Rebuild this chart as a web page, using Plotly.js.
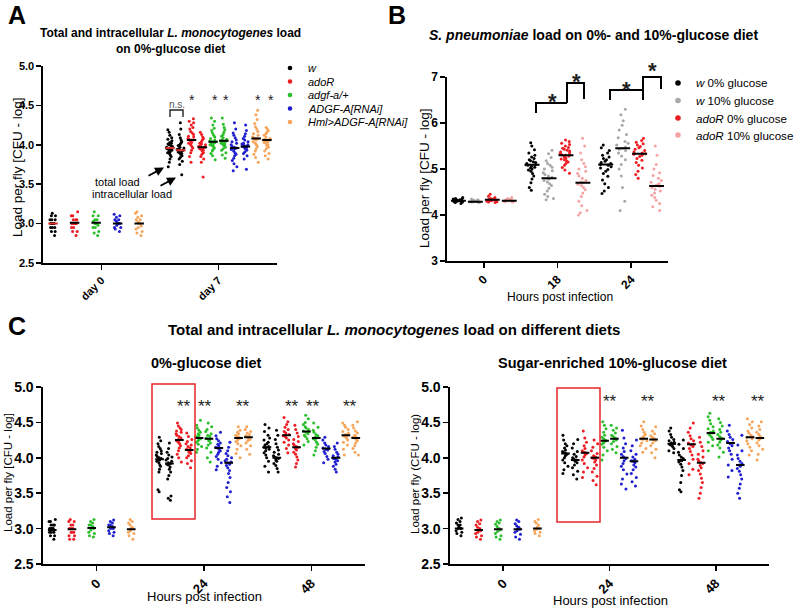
<!DOCTYPE html>
<html><head><meta charset="utf-8">
<script src="https://cdn.plot.ly/plotly-3.0.1.min.js"></script>
<style>html,body{margin:0;padding:0;background:#fff}#chart{width:800px;height:610px}</style>
</head><body><div id="chart"></div>
<script>
// ---------------- categories / labels ----------------
const genotypes = ['w', 'adoR', 'adgf-a/+', 'ADGF-A[RNAi]', 'Hml&gt;ADGF-A[RNAi]'];
const genoColors = ['#000000', '#ee1d23', '#2cbf2c', '#1f1fd0', '#f6a65c'];
const catsA = ['day 0', 'day 7'];
const catsB = ['0', '18', '24'];
const catsC = ['0', '24', '48'];
const groupsB = ['<i>w</i> 0% glucose', '<i>w</i> 10% glucose', '<i>adoR</i> 0% glucose', '<i>adoR</i> 10% glucose'];
const colorsB = ['#000000', '#a8a8a8', '#ee1d23', '#f5a3a3'];

// ---------------- Panel A: L. monocytogenes, 0%-glucose ----------------
const A_w_d0    = [2.85,2.9,2.9,2.95,2.95,2.95,3,3,3,3,3,3.05,3.05,3.05,3.1,3.1,3.13];
const A_adoR_d0 = [2.85,2.9,2.9,2.95,2.95,3,3,3,3,3,3.05,3.05,3.05,3.1,3.1,3.15];
const A_adgf_d0 = [2.85,2.88,2.9,2.95,2.95,2.98,3,3,3,3.03,3.05,3.05,3.1,3.1,3.15];
const A_rnai_d0 = [2.9,2.93,2.95,2.95,2.98,3,3,3,3.03,3.05,3.05,3.08,3.1,3.12];
const A_hml_d0  = [2.85,2.88,2.9,2.93,2.95,2.97,3,3,3.02,3.05,3.05,3.08,3.1,3.13,3.15];

const A_w_d7T    = [3.72,3.78,3.82,3.85,3.87,3.89,3.9,3.91,3.92,3.93,3.94,3.95,3.96,3.96,3.97,3.98,3.99,4.0,4.01,4.02,4.03,4.05,4.07,4.09,4.12,4.16,4.19];
const A_w_d7I    = [3.62,3.75,3.79,3.82,3.84,3.86,3.88,3.89,3.9,3.91,3.92,3.93,3.93,3.94,3.95,3.96,3.97,3.99,4.0,4.02,4.04,4.06,4.09,4.13,4.2,4.28];
const A_adoR_d7T = [3.78,3.85,3.9,3.93,3.96,3.98,4.0,4.02,4.03,4.05,4.06,4.06,4.07,4.08,4.1,4.11,4.13,4.15,4.17,4.2,4.22,4.25,4.28,4.3,4.33];
const A_adoR_d7I = [3.59,3.78,3.82,3.85,3.88,3.9,3.92,3.93,3.94,3.95,3.96,3.97,3.97,3.98,3.99,4.0,4.01,4.02,4.04,4.06,4.08,4.1,4.13,4.16];
const A_adgf_d7T = [3.81,3.86,3.89,3.92,3.94,3.96,3.98,3.99,4.0,4.01,4.02,4.03,4.04,4.04,4.05,4.06,4.08,4.1,4.12,4.15,4.18,4.21,4.25,4.3,4.34];
const A_adgf_d7I = [3.83,3.87,3.9,3.93,3.95,3.97,3.99,4.0,4.01,4.02,4.03,4.04,4.05,4.05,4.06,4.07,4.09,4.11,4.13,4.16,4.19,4.22,4.26,4.34];
const A_rnai_d7T = [3.67,3.72,3.76,3.8,3.83,3.86,3.88,3.9,3.92,3.94,3.95,3.96,3.96,3.97,3.98,4.0,4.02,4.04,4.06,4.09,4.12,4.15,4.2,4.28];
const A_rnai_d7I = [3.69,3.82,3.86,3.89,3.91,3.93,3.95,3.96,3.97,3.98,3.98,3.99,4.0,4.01,4.02,4.04,4.06,4.08,4.11,4.14,4.18,4.25];
const A_hml_d7T  = [3.78,3.84,3.88,3.92,3.95,3.98,4.0,4.02,4.04,4.06,4.07,4.08,4.08,4.09,4.1,4.12,4.14,4.17,4.2,4.23,4.27,4.32,4.38,4.44];
const A_hml_d7I  = [3.82,3.86,3.89,3.92,3.95,3.97,3.99,4.0,4.02,4.03,4.04,4.05,4.06,4.06,4.07,4.08,4.1,4.12,4.14,4.16,4.18,4.2,4.22];

const A_med_d0  = [3.0, 3.01, 3.01, 3.0, 3.0];
const A_med_d7T = [3.96, 4.06, 4.04, 3.96, 4.08];
const A_med_d7I = [3.93, 3.97, 4.05, 3.98, 4.06];

// ---------------- Panel B: S. pneumoniae ----------------
const B_w0_0  = [4.25,4.27,4.28,4.29,4.3,4.3,4.31,4.31,4.32,4.32,4.33,4.33,4.34,4.35,4.36,4.38];
const B_w10_0 = [4.27,4.28,4.28,4.29,4.29,4.29,4.3,4.3,4.3,4.31,4.31,4.32,4.33,4.35];
const B_a0_0  = [4.27,4.28,4.29,4.3,4.31,4.32,4.32,4.33,4.33,4.34,4.35,4.36,4.38,4.41,4.45];
const B_a10_0 = [4.28,4.29,4.3,4.3,4.31,4.31,4.31,4.32,4.32,4.33,4.34,4.36,4.38];
const B_w0_18  = [4.54,4.6,4.7,4.78,4.85,4.9,4.95,4.98,5.0,5.02,5.04,5.06,5.08,5.09,5.1,5.12,5.14,5.16,5.18,5.2,5.23,5.26,5.3,5.35,5.42,5.5,5.57];
const B_w10_18 = [4.33,4.36,4.4,4.45,4.52,4.58,4.64,4.68,4.72,4.75,4.78,4.8,4.82,4.85,4.88,4.92,4.96,5.0,5.04,5.08,5.12,5.18,5.25,5.33,5.41];
const B_a0_18  = [4.91,4.98,5.03,5.08,5.12,5.15,5.18,5.2,5.22,5.24,5.26,5.28,5.3,5.31,5.33,5.35,5.37,5.39,5.41,5.43,5.45,5.47,5.5,5.53,5.56,5.6,5.63];
const B_a10_18 = [4.0,4.05,4.1,4.2,4.3,4.4,4.48,4.55,4.6,4.64,4.67,4.7,4.72,4.75,4.8,4.85,4.9,4.95,5.0,5.05,5.12,5.2,5.35,5.5,5.67];
const B_w0_24  = [4.47,4.52,4.6,4.68,4.76,4.84,4.9,4.95,4.99,5.02,5.05,5.08,5.1,5.12,5.14,5.17,5.2,5.23,5.26,5.3,5.35,5.4,5.46,5.52];
const B_w10_24 = [4.1,4.3,4.6,4.85,5.0,5.1,5.2,5.28,5.35,5.4,5.43,5.45,5.48,5.52,5.56,5.6,5.68,5.75,5.85,5.95,6.05,6.18,6.3];
const B_a0_24  = [4.8,4.88,4.95,5.02,5.08,5.14,5.19,5.23,5.27,5.3,5.32,5.33,5.35,5.37,5.4,5.43,5.46,5.49,5.52,5.55,5.58,5.62,5.67];
const B_a10_24 = [4.1,4.18,4.25,4.32,4.38,4.43,4.48,4.52,4.56,4.6,4.62,4.63,4.65,4.68,4.71,4.75,4.8,4.86,4.92,5.0,5.1,5.3,5.5];
const B_med = [[4.31, 5.09, 5.1], [4.29, 4.8, 5.45], [4.33, 5.3, 5.33], [4.31, 4.7, 4.63]];

// ---------------- Panel C left: 0%-glucose diet ----------------
const CL_w_0    = [2.85,2.9,2.9,2.95,2.95,2.95,3,3,3,3,3.05,3.05,3.05,3.1,3.1,3.13];
const CL_adoR_0 = [2.85,2.85,2.9,2.9,2.95,2.95,2.95,3,3,3,3.05,3.05,3.1,3.1,3.13];
const CL_adgf_0 = [2.88,2.9,2.93,2.95,2.98,3,3,3.03,3.05,3.05,3.08,3.1,3.13];
const CL_rnai_0 = [2.9,2.93,2.95,2.97,3,3,3.02,3.03,3.05,3.05,3.08,3.1,3.12];
const CL_hml_0  = [2.85,2.9,2.93,2.95,2.97,3,3,3.02,3.05,3.08,3.1,3.13];
const CL_w_24T    = [3.52,3.55,3.8,3.84,3.88,3.9,3.93,3.95,3.97,3.98,3.99,4.0,4.02,4.04,4.06,4.08,4.1,4.13,4.16,4.2,4.24,4.29];
const CL_w_24I    = [3.4,3.43,3.46,3.7,3.75,3.8,3.84,3.87,3.9,3.91,3.92,3.93,3.95,3.97,3.99,4.01,4.04,4.08,4.13,4.21];
const CL_adoR_24T = [3.94,4.0,4.05,4.1,4.14,4.17,4.2,4.22,4.24,4.25,4.26,4.28,4.3,4.32,4.34,4.36,4.38,4.4,4.42,4.45,4.49];
const CL_adoR_24I = [3.86,3.92,3.96,4.0,4.03,4.06,4.08,4.1,4.11,4.12,4.14,4.16,4.18,4.2,4.23,4.26,4.3,4.35];
const CL_adgf_24T = [4.08,4.12,4.16,4.19,4.22,4.24,4.26,4.27,4.28,4.29,4.3,4.32,4.34,4.36,4.39,4.42,4.46,4.53];
const CL_adgf_24I = [3.94,4.0,4.08,4.14,4.18,4.21,4.24,4.26,4.27,4.28,4.3,4.32,4.34,4.37,4.4,4.44,4.49];
const CL_rnai_24T = [3.83,3.88,3.93,3.98,4.02,4.05,4.08,4.1,4.12,4.14,4.15,4.17,4.19,4.21,4.24,4.27,4.31,4.36];
const CL_rnai_24I = [3.37,3.45,3.52,3.58,3.65,3.72,3.78,3.82,3.86,3.89,3.91,3.93,3.94,3.96,3.98,4.0,4.03,4.06,4.1,4.15,4.22];
const CL_hml_24T  = [4.0,4.06,4.12,4.17,4.2,4.23,4.25,4.27,4.28,4.29,4.3,4.32,4.34,4.36,4.39,4.44];
const CL_hml_24I  = [4.05,4.12,4.17,4.21,4.24,4.26,4.28,4.29,4.3,4.31,4.33,4.35,4.37,4.4,4.44];
const CL_w_48T    = [3.8,3.88,3.95,4.0,4.04,4.07,4.1,4.12,4.14,4.15,4.16,4.18,4.2,4.22,4.25,4.28,4.32,4.37,4.42,4.47];
const CL_w_48I    = [3.8,3.85,3.89,3.92,3.95,3.97,3.99,4.0,4.01,4.03,4.05,4.08,4.11,4.15,4.2,4.26,4.32,4.39];
const CL_adoR_48T = [4.07,4.13,4.18,4.22,4.25,4.28,4.3,4.31,4.32,4.33,4.35,4.37,4.4,4.43,4.47,4.51,4.57];
const CL_adoR_48I = [3.87,3.92,3.97,4.01,4.05,4.08,4.11,4.13,4.15,4.16,4.18,4.2,4.23,4.26,4.3,4.35,4.4,4.46];
const CL_adgf_48T = [4.18,4.23,4.27,4.3,4.32,4.34,4.36,4.37,4.38,4.4,4.42,4.44,4.47,4.5,4.55,4.6];
const CL_adgf_48I = [4.04,4.1,4.15,4.19,4.22,4.25,4.27,4.28,4.29,4.31,4.33,4.36,4.39,4.43,4.49];
const CL_rnai_48T = [3.93,3.98,4.02,4.06,4.09,4.11,4.12,4.13,4.14,4.16,4.18,4.21,4.25,4.29];
const CL_rnai_48I = [3.8,3.84,3.88,3.91,3.94,3.96,3.98,3.99,4.0,4.01,4.03,4.05,4.08,4.12,4.16,4.21];
const CL_hml_48T  = [4.04,4.12,4.18,4.22,4.25,4.28,4.3,4.31,4.32,4.33,4.35,4.37,4.4,4.43,4.46,4.49];
const CL_hml_48I  = [4.04,4.08,4.13,4.17,4.21,4.24,4.26,4.28,4.29,4.3,4.32,4.35,4.38,4.42,4.46,4.51];
const CL_med_0   = [2.98, 2.99, 3.01, 3.02, 2.99];
const CL_med_24T = [3.98, 4.25, 4.28, 4.14, 4.28];
const CL_med_24I = [3.92, 4.11, 4.27, 3.93, 4.29];
const CL_med_48T = [4.15, 4.32, 4.37, 4.13, 4.32];
const CL_med_48I = [4.0, 4.15, 4.28, 4.0, 4.28];

// ---------------- Panel C right: sugar-enriched 10%-glucose diet ----------------
const CR_w_0    = [2.9,2.93,2.95,2.97,3,3,3.02,3.05,3.05,3.08,3.1,3.13,3.15];
const CR_adoR_0 = [2.85,2.88,2.9,2.93,2.95,2.97,2.98,3,3.02,3.05,3.07,3.1,3.12];
const CR_adgf_0 = [2.85,2.88,2.9,2.93,2.96,2.98,2.99,3,3.03,3.06,3.08,3.1,3.12];
const CR_rnai_0 = [2.85,2.88,2.92,2.95,2.97,2.99,3,3.02,3.04,3.07,3.1,3.12];
const CR_hml_0  = [2.9,2.93,2.95,2.97,2.99,3,3.02,3.05,3.08,3.1,3.13];
const CR_w_24T    = [3.78,3.83,3.88,3.93,3.97,4.0,4.03,4.05,4.06,4.07,4.09,4.11,4.14,4.17,4.2,4.25,4.32];
const CR_w_24I    = [3.7,3.76,3.81,3.86,3.9,3.93,3.95,3.97,3.98,4.0,4.02,4.05,4.09,4.14,4.2,4.26];
const CR_adoR_24T = [3.72,3.8,3.86,3.92,3.97,4.01,4.04,4.06,4.07,4.08,4.1,4.13,4.17,4.22,4.28,4.38];
const CR_adoR_24I = [3.62,3.68,3.74,3.8,3.85,3.9,3.94,3.97,3.99,4.0,4.01,4.03,4.06,4.1,4.15,4.2,4.25];
const CR_adgf_24T = [3.97,4.04,4.1,4.15,4.19,4.21,4.23,4.24,4.25,4.27,4.29,4.32,4.36,4.41,4.46,4.51];
const CR_adgf_24I = [4.07,4.12,4.16,4.2,4.23,4.25,4.27,4.28,4.3,4.32,4.35,4.39,4.42,4.46];
const CR_rnai_24T = [3.56,3.63,3.7,3.77,3.83,3.88,3.92,3.96,3.99,4.0,4.02,4.05,4.09,4.14,4.2,4.28,4.39];
const CR_rnai_24I = [3.6,3.66,3.72,3.78,3.83,3.87,3.9,3.93,3.95,3.96,3.98,4.01,4.05,4.1,4.17,4.25];
const CR_hml_24T  = [4.08,4.13,4.17,4.21,4.24,4.26,4.27,4.28,4.3,4.33,4.36,4.4,4.45,4.51];
const CR_hml_24I  = [4.0,4.07,4.12,4.17,4.21,4.24,4.26,4.27,4.29,4.31,4.34,4.38,4.44];
const CR_w_48T    = [4.07,4.1,4.13,4.16,4.18,4.19,4.2,4.21,4.22,4.24,4.26,4.29,4.33,4.38,4.42];
const CR_w_48I    = [3.52,3.55,3.65,3.75,3.82,3.87,3.91,3.94,3.96,3.97,3.99,4.01,4.04,4.08,4.13,4.19,4.25];
const CR_adoR_48T = [3.76,3.84,3.92,3.98,4.04,4.09,4.13,4.16,4.18,4.19,4.21,4.24,4.27,4.31,4.36,4.42,4.49];
const CR_adoR_48I = [3.43,3.5,3.58,3.65,3.71,3.77,3.82,3.86,3.89,3.92,3.93,3.95,3.98,4.01,4.05,4.1,4.16,4.22,4.29];
const CR_adgf_48T = [4.1,4.17,4.22,4.26,4.29,4.32,4.34,4.35,4.36,4.38,4.41,4.44,4.48,4.53,4.58,4.63];
const CR_adgf_48I = [4.01,4.08,4.14,4.18,4.22,4.25,4.27,4.28,4.3,4.33,4.36,4.4,4.45,4.5,4.55];
const CR_rnai_48T = [3.73,3.82,3.9,3.98,4.05,4.1,4.14,4.17,4.2,4.21,4.23,4.26,4.29,4.33,4.38,4.46];
const CR_rnai_48I = [3.43,3.5,3.57,3.63,3.7,3.76,3.81,3.85,3.88,3.9,3.92,3.95,3.99,4.04,4.1,4.18,4.32];
const CR_hml_48T  = [4.04,4.1,4.15,4.2,4.24,4.27,4.29,4.3,4.32,4.35,4.38,4.42,4.47,4.51,4.55];
const CR_hml_48I  = [3.97,4.05,4.12,4.17,4.21,4.25,4.27,4.28,4.3,4.33,4.36,4.4,4.45,4.51];
const CR_med_0   = [3.0, 2.98, 2.99, 2.99, 3.0];
const CR_med_24T = [4.06, 4.07, 4.24, 4.0, 4.27];
const CR_med_24I = [3.97, 4.0, 4.27, 3.95, 4.26];
const CR_med_48T = [4.2, 4.19, 4.35, 4.21, 4.29];
const CR_med_48I = [3.97, 3.93, 4.27, 3.9, 4.28];

// ---------------- helpers ----------------
const FONT = 'Liberation Sans, Arial, Helvetica, sans-serif';
const W = 800, H = 610;
const X = px => px / W;
const Y = py => 1 - py / H;
const rep = (v, n) => Array.from({length: n}, () => v);

function pointsTrace(xa, ya, group, cats, arrays, color) {
  let x = [], y = [];
  cats.forEach((c, i) => { x = x.concat(rep(c, arrays[i].length)); y = y.concat(arrays[i]); });
  return {type: 'box', x, y, xaxis: xa, yaxis: ya, offsetgroup: group,
    boxpoints: 'all', jitter: 0.85, pointpos: 0,
    marker: {color, size: 3}, line: {color: 'rgba(0,0,0,0)', width: 0},
    fillcolor: 'rgba(0,0,0,0)', showlegend: false, hoverinfo: 'skip'};
}
function medianTrace(xa, ya, group, cats, meds, color) {
  return {type: 'box', x: cats, y: meds, xaxis: xa, yaxis: ya, offsetgroup: group,
    boxpoints: false, line: {color: color || '#000', width: 2}, whiskerwidth: 0,
    fillcolor: 'rgba(0,0,0,0)', showlegend: false, hoverinfo: 'skip'};
}

const traces = [], medTraces = [];

// Panel A
const A_d0 = [A_w_d0, A_adoR_d0, A_adgf_d0, A_rnai_d0, A_hml_d0];
const A_d7T = [A_w_d7T, A_adoR_d7T, A_adgf_d7T, A_rnai_d7T, A_hml_d7T];
const A_d7I = [A_w_d7I, A_adoR_d7I, A_adgf_d7I, A_rnai_d7I, A_hml_d7I];
genotypes.forEach((g, i) => {
  traces.push(pointsTrace('x', 'y', 'A' + i + 'T', catsA, [A_d0[i], A_d7T[i]], genoColors[i]));
  traces.push(pointsTrace('x', 'y', 'A' + i + 'I', [catsA[1]], [A_d7I[i]], genoColors[i]));
  const mc = i === 0 ? '#d9312f' : '#000';
  medTraces.push(medianTrace('x', 'y', 'A' + i + 'T', catsA, [A_med_d0[i], A_med_d7T[i]], mc));
  medTraces.push(medianTrace('x', 'y', 'A' + i + 'I', [catsA[1]], [A_med_d7I[i]], mc));
});

// Panel B
const B_data = [[B_w0_0, B_w0_18, B_w0_24], [B_w10_0, B_w10_18, B_w10_24], [B_a0_0, B_a0_18, B_a0_24], [B_a10_0, B_a10_18, B_a10_24]];
groupsB.forEach((g, j) => {
  traces.push(pointsTrace('x2', 'y2', 'B' + j, catsB, B_data[j], colorsB[j]));
  medTraces.push(medianTrace('x2', 'y2', 'B' + j, catsB, B_med[j], '#000'));
});

// Panel C
function addC(prefix, xa, ya, d0, d24T, d24I, d48T, d48I, m0, m24T, m24I, m48T, m48I) {
  genotypes.forEach((g, i) => {
    traces.push(pointsTrace(xa, ya, prefix + i + 'T', catsC, [d0[i], d24T[i], d48T[i]], genoColors[i]));
    traces.push(pointsTrace(xa, ya, prefix + i + 'I', [catsC[1], catsC[2]], [d24I[i], d48I[i]], genoColors[i]));
    medTraces.push(medianTrace(xa, ya, prefix + i + 'T', catsC, [m0[i], m24T[i], m48T[i]]));
    medTraces.push(medianTrace(xa, ya, prefix + i + 'I', [catsC[1], catsC[2]], [m24I[i], m48I[i]]));
  });
}
addC('L', 'x3', 'y3',
  [CL_w_0, CL_adoR_0, CL_adgf_0, CL_rnai_0, CL_hml_0],
  [CL_w_24T, CL_adoR_24T, CL_adgf_24T, CL_rnai_24T, CL_hml_24T],
  [CL_w_24I, CL_adoR_24I, CL_adgf_24I, CL_rnai_24I, CL_hml_24I],
  [CL_w_48T, CL_adoR_48T, CL_adgf_48T, CL_rnai_48T, CL_hml_48T],
  [CL_w_48I, CL_adoR_48I, CL_adgf_48I, CL_rnai_48I, CL_hml_48I],
  CL_med_0, CL_med_24T, CL_med_24I, CL_med_48T, CL_med_48I);
addC('R', 'x4', 'y4',
  [CR_w_0, CR_adoR_0, CR_adgf_0, CR_rnai_0, CR_hml_0],
  [CR_w_24T, CR_adoR_24T, CR_adgf_24T, CR_rnai_24T, CR_hml_24T],
  [CR_w_24I, CR_adoR_24I, CR_adgf_24I, CR_rnai_24I, CR_hml_24I],
  [CR_w_48T, CR_adoR_48T, CR_adgf_48T, CR_rnai_48T, CR_hml_48T],
  [CR_w_48I, CR_adoR_48I, CR_adgf_48I, CR_rnai_48I, CR_hml_48I],
  CR_med_0, CR_med_24T, CR_med_24I, CR_med_48T, CR_med_48I);

// ---------------- axes ----------------
function xAxis(dom, anchor, cats, tsize) {
  return {domain: [X(dom[0]), X(dom[1])], anchor, type: 'category',
    categoryorder: 'array', categoryarray: cats, range: [-0.5, cats.length - 0.5],
    showline: true, linecolor: '#000', linewidth: 1.6, ticks: 'outside', ticklen: 5,
    tickwidth: 1.6, tickcolor: '#000', showgrid: false, zeroline: false, tickangle: -45,
    tickfont: {family: FONT, size: tsize, color: '#000', weight: 'bold'}, fixedrange: true};
}
function yAxis(dom, anchor, range, dtick, fmt, tsize) {
  return {domain: [Y(dom[1]), Y(dom[0])], anchor, range, dtick, tick0: range[0], tickformat: fmt,
    showline: true, linecolor: '#000', linewidth: 1.6, ticks: 'outside', ticklen: 5,
    tickwidth: 1.6, tickcolor: '#000', showgrid: false, zeroline: false,
    tickfont: {family: FONT, size: tsize, color: '#000', weight: 'bold'}, fixedrange: true};
}

// ---------------- annotations ----------------
const ann = [];
function txt(text, x, y, size, opts) {
  ann.push(Object.assign({text, xref: 'paper', yref: 'paper', x: X(x), y: Y(y),
    xanchor: 'center', yanchor: 'middle', showarrow: false,
    font: {family: FONT, size, color: '#000'}}, opts || {}));
}
const bold = (s) => ({font: {family: FONT, size: s, color: '#000', weight: 'bold'}});

// panel letters
txt('A', 17, 15, 25, bold(25));
txt('B', 397, 15, 25, bold(25));
txt('C', 17, 326, 25, bold(25));
// titles
txt('Total and intracellular <i>L. monocytogenes</i> load', 170, 33, 12, bold(12));
txt('on 0%-glucose diet', 170, 49, 12, bold(12));
txt('<i>S. pneumoniae</i> load on 0%- and 10%-glucose diet', 593, 35, 14, bold(14));
txt('Total and intracellular <i>L. monocytogenes</i> load on different diets', 394, 329, 15, bold(15));
txt('0%-glucose diet', 206, 363, 14.5, bold(14.5));
txt('Sugar-enriched 10%-glucose diet', 612, 363, 14.5, bold(14.5));
// axis titles
txt('Load per fly [CFU - log]', 18, 167, 13.5, {textangle: -90});
txt('Load per fly [CFU - log]', 425, 178, 13.5, {textangle: -90});
txt('Load per fly [CFU - log]', 8, 473, 11.5, {textangle: -90});
txt('Load per fly (CFU - log)', 415, 474, 11.5, {textangle: -90});
txt('Hours post infection', 560, 297, 12);
txt('Hours post infection', 204, 596, 13);
txt('Hours post infection', 610, 600, 13);

// legends (manual)
const shapes = [];
function dot(cx, cy, r, color) {
  shapes.push({type: 'circle', xref: 'paper', yref: 'paper', x0: X(cx - r), x1: X(cx + r),
    y0: Y(cy + r), y1: Y(cy - r), fillcolor: color, line: {width: 0}});
}
const legA_y = [68, 81.5, 95, 108.5, 122];
genotypes.forEach((g, i) => {
  dot(290, legA_y[i], 2.3, genoColors[i]);
  txt('<i>' + g + '</i>', 306, legA_y[i], 11, {xanchor: 'left'});
});
const legB_y = [83, 100.5, 118, 135];
groupsB.forEach((g, j) => {
  dot(678, legB_y[j], 2.8, colorsB[j]);
  txt(g, 694, legB_y[j], 11.6, {xanchor: 'left'});
});

// panel A annotations
txt('n.s.', 177, 104, 10, {font: {family: FONT, size: 10, color: '#555'}});
function pathPx(pts, color, width) {
  const d = pts.map((p, k) => (k ? 'L' : 'M') + X(p[0]).toFixed(5) + ',' + Y(p[1]).toFixed(5)).join(' ');
  shapes.push({type: 'path', xref: 'paper', yref: 'paper', path: d, line: {color, width}});
}
pathPx([[170, 117], [170, 110], [183, 110], [183, 117]], '#222', 1.4);
function star(text, x, y, size, weight) {
  txt(text, x, y + 0.28 * size, size, {font: {family: FONT, size, color: '#222', weight: weight || 'normal'}});
}
[192, 215, 226, 258, 271].forEach(x => star('*', x, 96, 14));
txt('total load', 117, 182, 11);
txt('intracellular load', 132, 194, 11);
ann.push({text: '', xref: 'paper', yref: 'paper', x: X(164), y: Y(167.5), ax: -17, ay: 9,
  showarrow: true, arrowhead: 2, arrowsize: 1, arrowwidth: 1.8, arrowcolor: '#000'});
ann.push({text: '', xref: 'paper', yref: 'paper', x: X(176), y: Y(177.5), ax: -17, ay: 9,
  showarrow: true, arrowhead: 2, arrowsize: 1, arrowwidth: 1.8, arrowcolor: '#000'});

// panel B brackets and stars
pathPx([[536, 113], [536, 103], [567, 103]], '#000', 2);
pathPx([[567, 103], [567, 83], [584, 83], [584, 99]], '#000', 2);
pathPx([[610, 100], [610, 90], [643, 90], [643, 100]], '#000', 2);
pathPx([[643, 90], [643, 77], [661, 77], [661, 89]], '#000', 2);
star('*', 552, 95, 22, 'bold');
star('*', 576, 75, 22, 'bold');
star('*', 626, 83, 22, 'bold');
star('*', 652, 64, 22, 'bold');

// panel C stars and boxes
[184, 205, 243, 292, 313, 350].forEach(x => star('**', x, 402, 17));
[610, 648, 719, 758].forEach(x => star('**', x, 397, 17));
shapes.push({type: 'rect', xref: 'paper', yref: 'paper', x0: X(152), x1: X(195), y0: Y(519), y1: Y(384),
  line: {color: '#e8262b', width: 1.5}, fillcolor: 'rgba(0,0,0,0)'});
shapes.push({type: 'rect', xref: 'paper', yref: 'paper', x0: X(557), x1: X(600), y0: Y(522), y1: Y(388),
  line: {color: '#e8262b', width: 1.5}, fillcolor: 'rgba(0,0,0,0)'});

const layout = {
  width: W, height: H, margin: {l: 0, r: 0, t: 0, b: 0},
  paper_bgcolor: '#fff', plot_bgcolor: '#fff', showlegend: false,
  boxmode: 'group', boxgap: 0.08, boxgroupgap: 0.12,
  font: {family: FONT, color: '#000'},
  xaxis: xAxis([43, 277], 'y', catsA, 11),
  yaxis: yAxis([66, 263], 'x', [2.5, 5.0], 0.5, '.1f', 11),
  xaxis2: xAxis([447, 668], 'y2', catsB, 12),
  yaxis2: yAxis([77, 261], 'x2', [3, 7], 1, 'd', 12),
  xaxis3: xAxis([43, 365], 'y3', catsC, 13),
  yaxis3: yAxis([387, 564], 'x3', [2.5, 5.0], 0.5, '.1f', 14),
  xaxis4: xAxis([450, 769], 'y4', catsC, 13),
  yaxis4: yAxis([387, 564], 'x4', [2.5, 5.0], 0.5, '.1f', 14),
  annotations: ann, shapes: shapes
};

Plotly.newPlot('chart', traces.concat(medTraces), layout, {staticPlot: true, displayModeBar: false});
</script>
</body></html>
